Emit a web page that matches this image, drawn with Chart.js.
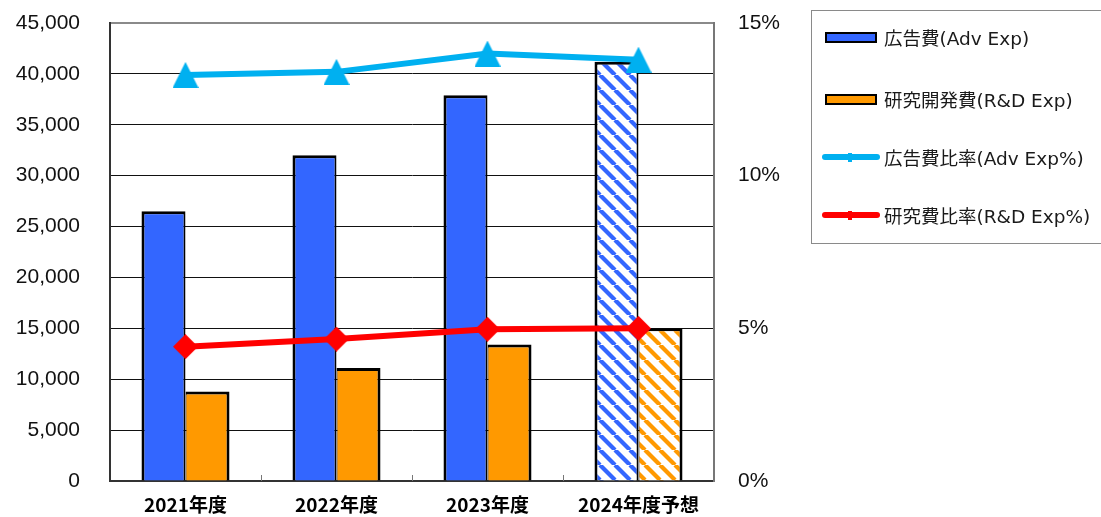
<!DOCTYPE html>
<html>
<head>
<meta charset="utf-8">
<script src="https://cdn.jsdelivr.net/npm/chart.js@4"></script>
<style>
  html, body { margin: 0; padding: 0; background: #fff; overflow: hidden; }
  #wrap { position: relative; width: 1101px; height: 517px; overflow: hidden; }
  #chartbox { position: absolute; left: 0; top: 0; width: 1101px; height: 517px; }
  #legend {
    position: absolute; left: 811px; top: 10px; width: 320px; height: 234px;
    border: 1px solid #8a8a8a; box-sizing: border-box;
    font-family: "DejaVu Sans", "Noto Sans CJK JP", sans-serif; font-size: 18.5px; color: #1a1a1a;
  }
  .item { position: absolute; left: 0; height: 24px; display: flex; align-items: center; white-space: nowrap; }
  .item canvas { display: block; margin-left: 10px; margin-right: 4px; }
  .item span { font-family: "DejaVu Sans", "Noto Sans CJK JP", sans-serif; }
</style>
</head>
<body>
<div id="wrap">
  <div id="chartbox"><canvas id="c"></canvas></div>
  <div id="legend"></div>
</div>
<script>
// ---- data ----
const categories = ["2021年度", "2022年度", "2023年度", "2024年度予想"];
const advExp = [26500, 32000, 37900, 41200];
const rdExp = [8800, 11100, 13400, 15000];
const advPct = [13.3, 13.4, 14.0, 13.8];
const rdPct = [4.4, 4.65, 4.97, 5.0];
const leftTicks = [0, 5000, 10000, 15000, 20000, 25000, 30000, 35000, 40000, 45000];
const rightTicks = [0, 5, 10, 15];
const forecastFlags = [false, false, false, true];
const seriesNames = ["広告費(Adv Exp)", "研究開発費(R&D Exp)", "広告費比率(Adv Exp%)", "研究費比率(R&D Exp%)"];

const BLUE = "#3366FF", ORANGE = "#FF9900", CYAN = "#00B0F0", RED = "#FF0000";

function stripePattern(color) {
  const s = 15;
  const cv = document.createElement("canvas");
  cv.width = s; cv.height = s;
  const g = cv.getContext("2d");
  g.fillStyle = "#fff"; g.fillRect(0, 0, s, s);
  g.strokeStyle = color; g.lineWidth = 4.2;
  for (const o of [-s, 0, s]) {
    g.beginPath(); g.moveTo(o, 0); g.lineTo(o + s, s); g.stroke();
  }
  return g.createPattern(cv, "repeat");
}
function triangleImg(w, h, color) {
  const cv = document.createElement("canvas");
  cv.width = w; cv.height = h;
  const g = cv.getContext("2d");
  g.fillStyle = color;
  g.beginPath(); g.moveTo(w / 2, 0); g.lineTo(w, h); g.lineTo(0, h); g.closePath(); g.fill();
  return cv;
}
function diamondImg(w, h, color) {
  const cv = document.createElement("canvas");
  cv.width = w; cv.height = h;
  const g = cv.getContext("2d");
  g.fillStyle = color;
  g.beginPath(); g.moveTo(w / 2, 0); g.lineTo(w, h / 2); g.lineTo(w / 2, h); g.lineTo(0, h / 2); g.closePath(); g.fill();
  return cv;
}

const blueStripe = stripePattern(BLUE);
const orangeStripe = stripePattern(ORANGE);

const catTicks = {
  id: "catTicks",
  afterDraw(chart) {
    const x = chart.scales.x, a = chart.chartArea, ctx = chart.ctx;
    ctx.save();
    ctx.strokeStyle = "#777"; ctx.lineWidth = 1;
    for (let i = 1; i < categories.length; i++) {
      const px = Math.round((x.getPixelForValue(i - 1) + x.getPixelForValue(i)) / 2) + 0.5;
      ctx.beginPath(); ctx.moveTo(px, a.bottom); ctx.lineTo(px, a.bottom - 6); ctx.stroke();
    }
    ctx.restore();
  }
};

const chart = new Chart(document.getElementById("c"), {
  type: "bar",
  data: {
    labels: categories,
    datasets: [
      {
        type: "line", label: seriesNames[2], data: advPct, yAxisID: "y1", order: 0,
        borderColor: CYAN, borderWidth: 6, tension: 0,
        pointStyle: triangleImg(26, 26, CYAN), pointRadius: 13, pointHoverRadius: 13
      },
      {
        type: "line", label: seriesNames[3], data: rdPct, yAxisID: "y1", order: 0,
        borderColor: RED, borderWidth: 6, tension: 0,
        pointStyle: diamondImg(25, 25, RED), pointRadius: 13, pointHoverRadius: 13
      },
      {
        label: seriesNames[0], data: advExp, yAxisID: "y", order: 1,
        backgroundColor: forecastFlags.map(f => f ? blueStripe : BLUE),
        borderColor: "#000", borderWidth: { top: 3, left: 3, right: 2, bottom: 0 },
        borderSkipped: "bottom",
        categoryPercentage: 0.583, barPercentage: 1
      },
      {
        label: seriesNames[1], data: rdExp, yAxisID: "y", order: 1,
        backgroundColor: forecastFlags.map(f => f ? orangeStripe : ORANGE),
        borderColor: "#000", borderWidth: { top: 3, left: 1, right: 3, bottom: 0 },
        borderSkipped: "bottom",
        categoryPercentage: 0.583, barPercentage: 1
      }
    ]
  },
  options: {
    responsive: true, maintainAspectRatio: false, animation: false,
    layout: { padding: { top: 23, left: 0, right: 0, bottom: 0 } },
    plugins: { legend: { display: false }, tooltip: { enabled: false } },
    scales: {
      x: {
        offset: true,
        grid: { display: false },
        border: { display: true, color: "#333", width: 2 },
        ticks: { color: "#000", padding: 6, maxRotation: 0, autoSkip: false,
          font: { family: "'Noto Sans CJK JP', sans-serif", size: 19, weight: "bold", lineHeight: 1 } },
        afterFit(s) { s.height = 36; }
      },
      y: {
        position: "left", min: 0, max: 45000,
        afterBuildTicks(s) { s.ticks = leftTicks.map(v => ({ value: v })); },
        grid: { color: ctx => ctx.tick && ctx.tick.value === 45000 ? "#8a8a8a" : "#111",
                lineWidth: ctx => ctx.tick && ctx.tick.value === 45000 ? 2 : 1,
                drawTicks: true, tickLength: 24, tickColor: "rgba(0,0,0,0)" },
        border: { display: true, color: "#333", width: 2 },
        ticks: { color: "#111", padding: 6,
          font: { family: "'Liberation Sans', Arial, sans-serif", size: 21 },
          callback: v => Number(v).toLocaleString("en-US") },
        afterFit(s) { s.width = 110; }
      },
      y1: {
        position: "right", min: 0, max: 15,
        afterBuildTicks(s) { s.ticks = rightTicks.map(v => ({ value: v })); },
        grid: { drawOnChartArea: false, drawTicks: true, tickLength: 20, tickColor: "rgba(0,0,0,0)" },
        border: { display: true, color: "#777", width: 2 },
        ticks: { color: "#111", padding: 4,
          font: { family: "'Liberation Sans Narrow', 'Liberation Sans', sans-serif", size: 21 },
          callback: v => v + "%" },
        afterFit(s) { s.width = 387; }
      }
    }
  },
  plugins: [catTicks]
});

// ---- HTML legend ----
const legend = document.getElementById("legend");
const rowsY = [14, 76, 134, 192];
const kinds = ["bar", "bar", "line", "line"];
const colors = [BLUE, ORANGE, CYAN, RED];
seriesNames.forEach((name, i) => {
  const row = document.createElement("div");
  row.className = "item";
  row.style.top = rowsY[i] + "px";
  const sw = document.createElement("canvas");
  sw.width = 58; sw.height = 14;
  const g = sw.getContext("2d");
  if (kinds[i] === "bar") {
    g.fillStyle = "#000"; g.fillRect(3, 2, 52, 11);
    g.fillStyle = colors[i]; g.fillRect(5, 4, 48, 7);
  } else {
    g.strokeStyle = colors[i]; g.lineWidth = 6; g.lineCap = "round";
    g.beginPath(); g.moveTo(3, 7); g.lineTo(55, 7); g.stroke();
    g.fillStyle = colors[i]; g.fillRect(26, 3, 4, 9);
  }
  row.appendChild(sw);
  const t = document.createElement("span");
  t.textContent = name;
  row.appendChild(t);
  legend.appendChild(row);
});
</script>
</body>
</html>
